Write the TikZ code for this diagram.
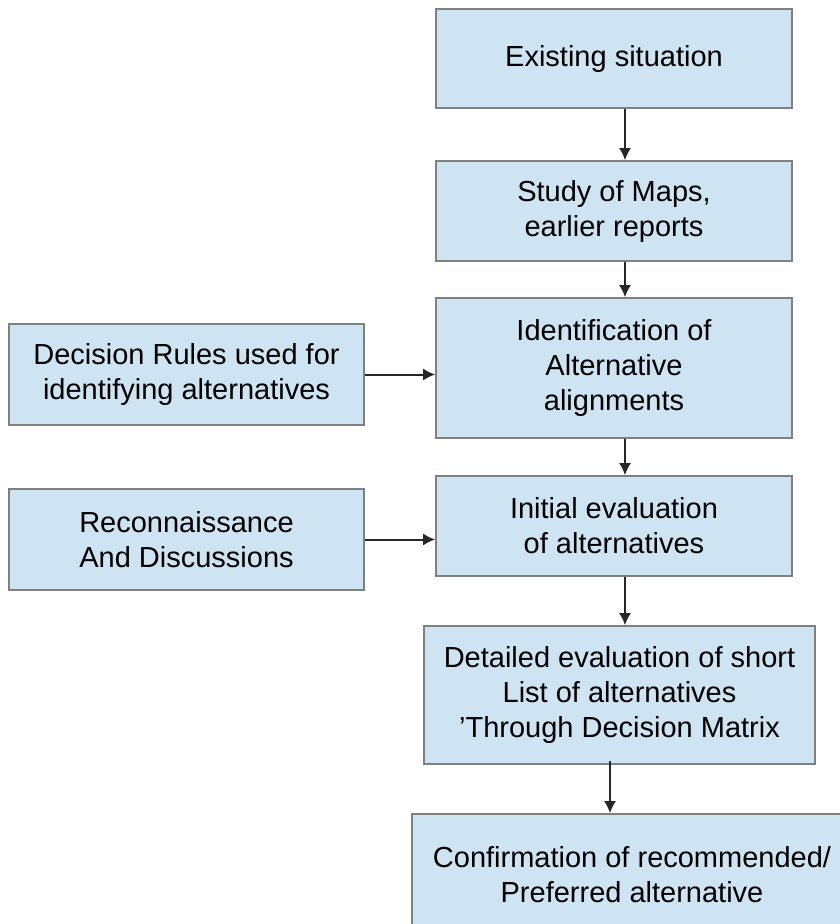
\documentclass[tikz,border=0pt]{standalone}
\usepackage{fontspec}
\setmainfont{Liberation Sans}
\usetikzlibrary{arrows.meta}
\definecolor{boxfill}{RGB}{207,228,242}
\definecolor{boxline}{RGB}{128,128,128}
\begin{document}
\begin{tikzpicture}[x=1pt,y=-1pt,
  flowbox/.style={draw=boxline, fill=boxfill, line width=1.6pt, inner sep=0pt,
    align=center, font=\fontsize{29}{35}\selectfont, text=black},
  arr/.style={draw=black!85, line width=2pt, -{Latex[length=12pt,width=12pt]}}]
\clip (0,0) rectangle (840,924);
\fill[white] (0,0) rectangle (840,924);
\node[flowbox, minimum width=356, minimum height=99] (b1) at (614,58.5) {Existing situation};
\node[flowbox, minimum width=356, minimum height=100] (b2) at (614,211) {Study of Maps,\\ earlier reports};
\node[flowbox, minimum width=356, minimum height=140] (b3) at (614,368) {Identification of\\Alternative\\alignments};
\node[flowbox, minimum width=356, minimum height=100] (b4) at (614,526) {Initial evaluation\\ of alternatives};
\node[flowbox, minimum width=391, minimum height=138] (b5) at (619.5,695) {Detailed evaluation of short\\List of alternatives\\'Through Decision Matrix};
\node[flowbox, minimum width=440, minimum height=122] (b6) at (632,875) {Confirmation of recommended/\\Preferred alternative};
\node[flowbox, minimum width=355, minimum height=101] (ba) at (186.5,374.5) {Decision Rules used for\\identifying alternatives};
\node[flowbox, minimum width=355, minimum height=101] (bb) at (186.5,539.5) {Reconnaissance\\And Discussions};
\draw[arr] ([xshift=11]b1.south) -- ([xshift=11]b2.north);
\draw[arr] ([xshift=11]b2.south) -- ([xshift=11]b3.north);
\draw[arr] ([xshift=11]b3.south) -- ([xshift=11]b4.north);
\draw[arr] ([xshift=11]b4.south) -- ([xshift=5.5]b5.north);
\draw[arr] ([xshift=-9.5,yshift=4]b5.south) -- ([xshift=-22]b6.north);
\draw[arr] (ba.east) -- (ba.east -| b3.west);
\draw[arr] (bb.east) -- (bb.east -| b4.west);
\end{tikzpicture}
\end{document}
